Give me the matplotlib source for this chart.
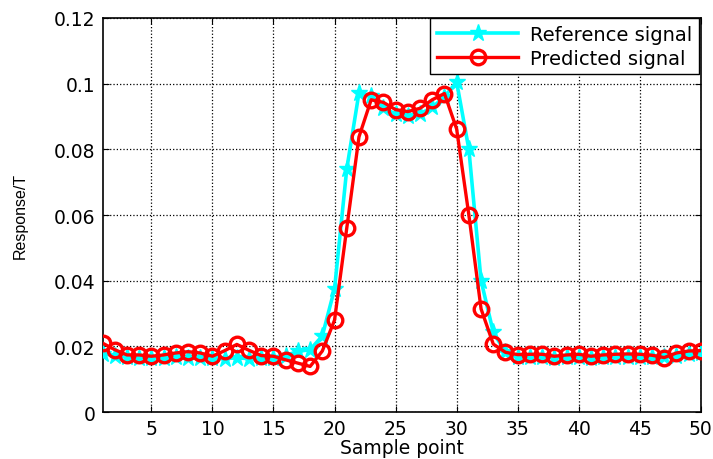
import matplotlib
matplotlib.use("Agg")
import matplotlib.pyplot as plt

plt.rcParams['font.family'] = ['DejaVu Sans']

sample_points = list(range(1, 51))

reference_signal = [
    0.0178, 0.0172, 0.0168, 0.0166, 0.0165, 0.0166, 0.0167, 0.0165, 0.0166, 0.0164,
    0.0163, 0.0165, 0.0163, 0.0164, 0.0166, 0.0172, 0.0185, 0.0190, 0.0232, 0.0375,
    0.0740, 0.0972, 0.0963, 0.0925, 0.0908, 0.0903, 0.0908, 0.0928, 0.0960, 0.1005,
    0.0800, 0.0400, 0.0243, 0.0182, 0.0168, 0.0167, 0.0168, 0.0166, 0.0167, 0.0168,
    0.0166, 0.0167, 0.0168, 0.0168, 0.0167, 0.0168, 0.0167, 0.0172, 0.0176, 0.0180,
]

predicted_signal = [
    0.0210, 0.0190, 0.0174, 0.0174, 0.0170, 0.0174, 0.0180, 0.0184, 0.0180, 0.0170,
    0.0187, 0.0206, 0.0188, 0.0172, 0.0170, 0.0159, 0.0149, 0.0139, 0.0186, 0.0280,
    0.0560, 0.0838, 0.0951, 0.0943, 0.0921, 0.0915, 0.0925, 0.0951, 0.0970, 0.0862,
    0.0600, 0.0314, 0.0207, 0.0182, 0.0175, 0.0176, 0.0176, 0.0170, 0.0174, 0.0176,
    0.0170, 0.0174, 0.0176, 0.0177, 0.0176, 0.0173, 0.0166, 0.0180, 0.0186, 0.0187,
]

x_ticks = [5, 10, 15, 20, 25, 30, 35, 40, 45, 50]
y_ticks = [0, 0.02, 0.04, 0.06, 0.08, 0.1, 0.12]
y_tick_labels = ["0", "0.02", "0.04", "0.06", "0.08", "0.1", "0.12"]

fig = plt.figure(figsize=(7.13, 4.60), dpi=100)
ax = fig.add_axes([0.1438, 0.102, 0.8392, 0.8567])

ax.plot(sample_points, reference_signal, color='#00ffff', linewidth=2.6,
        marker='*', markersize=12.5, markerfacecolor='#00ffff',
        markeredgecolor='#00ffff', label='Reference signal', zorder=3)
ax.plot(sample_points, predicted_signal, color='#ff0000', linewidth=2.4,
        marker='o', markersize=10.5, markerfacecolor='none',
        markeredgecolor='#ff0000', markeredgewidth=2.4,
        label='Predicted signal', zorder=4)

ax.set_xlim(1, 50)
ax.set_ylim(0, 0.12)
ax.set_xticks(x_ticks)
ax.set_yticks(y_ticks)
ax.set_yticklabels(y_tick_labels)
ax.tick_params(direction='in', labelsize=13.5, length=4, width=0.8,
               top=True, right=True, colors='black', pad=5)

ax.grid(True, linestyle=':', color='black', linewidth=0.9)
for s in ax.spines.values():
    s.set_linewidth(1.2)
    s.set_color('black')

ax.set_xlabel('Sample point', fontsize=13.5, labelpad=0)
ax.set_ylabel('Response/T', fontsize=11.5, labelpad=19,
              family=['Liberation Sans', 'DejaVu Sans'])

leg = ax.legend(loc='upper right', fontsize=14, frameon=True, fancybox=False,
                edgecolor='black', framealpha=1, borderaxespad=0,
                bbox_to_anchor=(0.997, 1.0),
                handlelength=4.2, handletextpad=0.6, borderpad=0.35,
                labelspacing=0.25)
leg.get_frame().set_linewidth(1.0)

fig.savefig('out.png', dpi=100)
